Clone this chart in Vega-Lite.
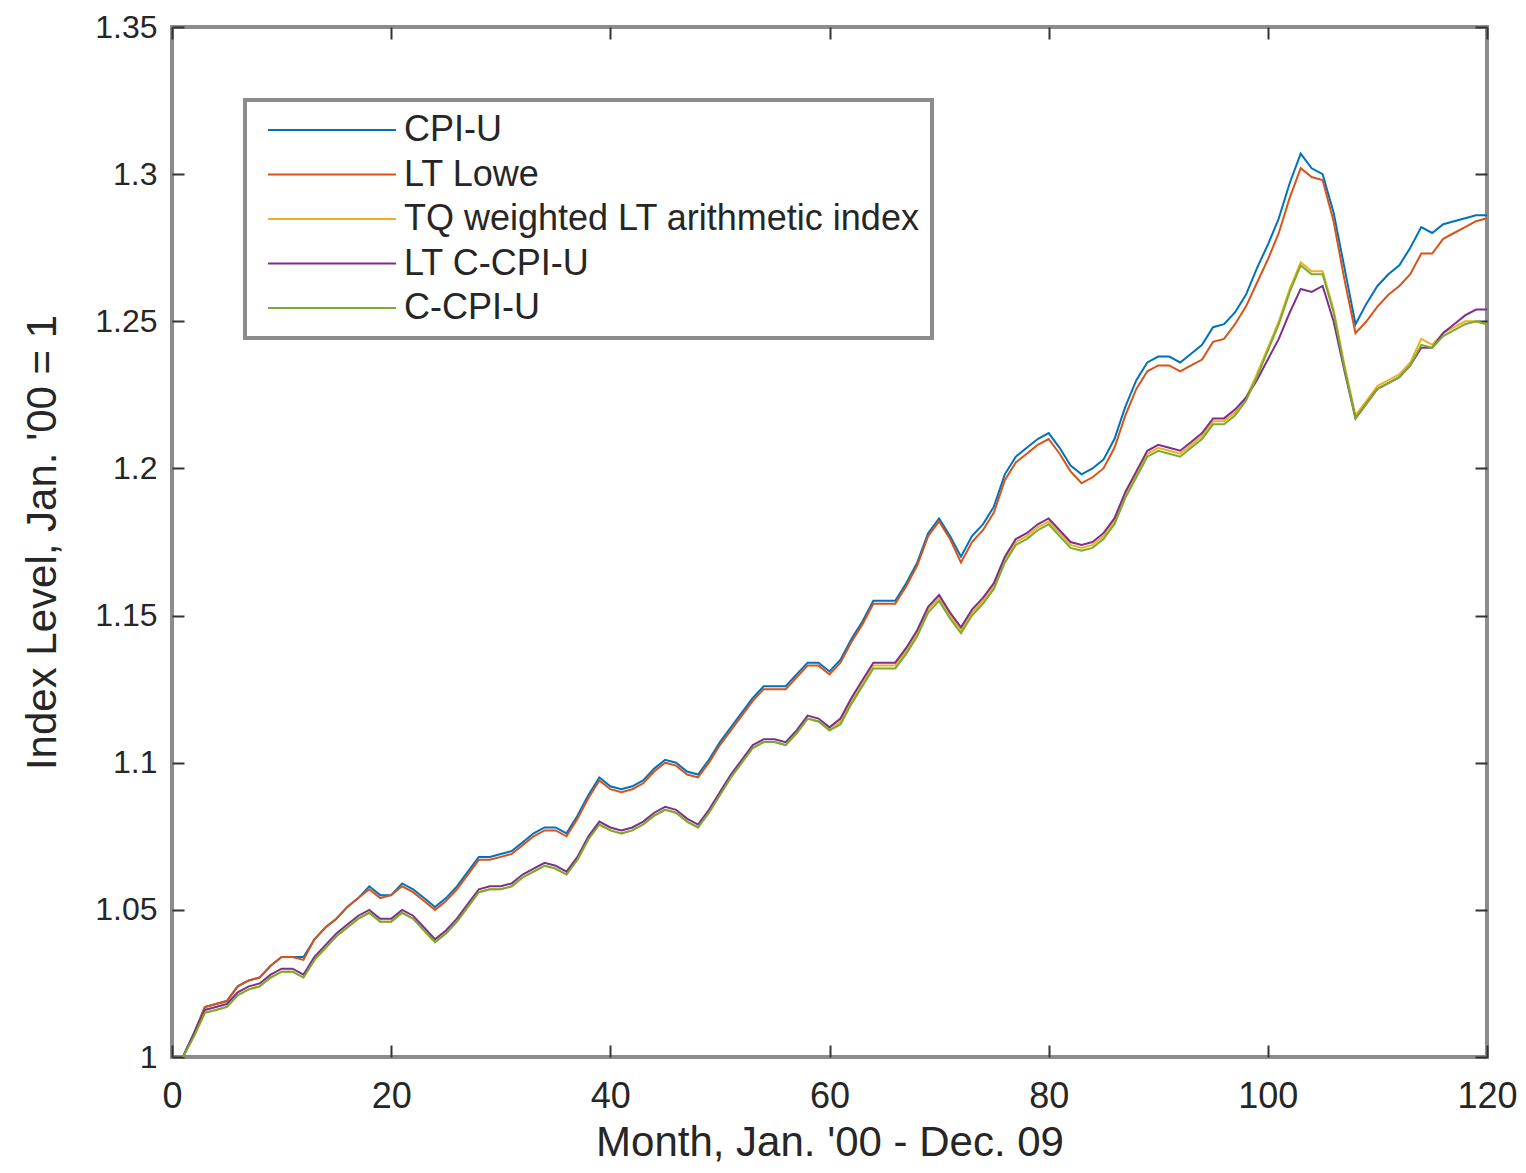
{
  "$schema": "https://vega.github.io/schema/vega-lite/v6.json",
  "width": 1315,
  "height": 1030,
  "autosize": "none",
  "padding": {"left": 172, "top": 27, "right": 39, "bottom": 116},
  "background": "white",
  "config": {
    "view": {"stroke": "#8c8c8c", "strokeWidth": 4},
    "font": "Liberation Sans",
    "axis": {"domain": false, "grid": false, "labelFont": "Liberation Sans", "titleFont": "Liberation Sans", "labelColor": "#262626", "titleColor": "#262626", "tickColor": "#333333", "tickWidth": 2, "tickSize": -12, "labelFlush": false, "labelOverlap": false, "titleFontWeight": "normal"},
    "legend": {"strokeWidth": 4}
  },
  "data": {"values": [
    {"m":1,"cpiu":1.000,"lowe":1.000,"tq":1.000,"ltc":1.000,"ccpi":1.000},
    {"m":2,"cpiu":1.008,"lowe":1.008,"tq":1.007,"ltc":1.008,"ccpi":1.007},
    {"m":3,"cpiu":1.017,"lowe":1.017,"tq":1.015,"ltc":1.016,"ccpi":1.015},
    {"m":4,"cpiu":1.018,"lowe":1.018,"tq":1.016,"ltc":1.017,"ccpi":1.016},
    {"m":5,"cpiu":1.019,"lowe":1.019,"tq":1.017,"ltc":1.018,"ccpi":1.017},
    {"m":6,"cpiu":1.024,"lowe":1.024,"tq":1.021,"ltc":1.022,"ccpi":1.021},
    {"m":7,"cpiu":1.026,"lowe":1.026,"tq":1.023,"ltc":1.024,"ccpi":1.023},
    {"m":8,"cpiu":1.027,"lowe":1.027,"tq":1.024,"ltc":1.025,"ccpi":1.024},
    {"m":9,"cpiu":1.031,"lowe":1.031,"tq":1.027,"ltc":1.028,"ccpi":1.027},
    {"m":10,"cpiu":1.034,"lowe":1.034,"tq":1.029,"ltc":1.030,"ccpi":1.029},
    {"m":11,"cpiu":1.034,"lowe":1.034,"tq":1.029,"ltc":1.030,"ccpi":1.029},
    {"m":12,"cpiu":1.034,"lowe":1.033,"tq":1.027,"ltc":1.028,"ccpi":1.027},
    {"m":13,"cpiu":1.040,"lowe":1.040,"tq":1.033,"ltc":1.034,"ccpi":1.033},
    {"m":14,"cpiu":1.044,"lowe":1.044,"tq":1.037,"ltc":1.038,"ccpi":1.037},
    {"m":15,"cpiu":1.047,"lowe":1.047,"tq":1.041,"ltc":1.042,"ccpi":1.041},
    {"m":16,"cpiu":1.051,"lowe":1.051,"tq":1.044,"ltc":1.045,"ccpi":1.044},
    {"m":17,"cpiu":1.054,"lowe":1.054,"tq":1.047,"ltc":1.048,"ccpi":1.047},
    {"m":18,"cpiu":1.058,"lowe":1.057,"tq":1.049,"ltc":1.050,"ccpi":1.049},
    {"m":19,"cpiu":1.055,"lowe":1.054,"tq":1.046,"ltc":1.047,"ccpi":1.046},
    {"m":20,"cpiu":1.055,"lowe":1.055,"tq":1.046,"ltc":1.047,"ccpi":1.046},
    {"m":21,"cpiu":1.059,"lowe":1.058,"tq":1.049,"ltc":1.050,"ccpi":1.049},
    {"m":22,"cpiu":1.057,"lowe":1.056,"tq":1.047,"ltc":1.048,"ccpi":1.047},
    {"m":23,"cpiu":1.054,"lowe":1.053,"tq":1.043,"ltc":1.044,"ccpi":1.043},
    {"m":24,"cpiu":1.051,"lowe":1.050,"tq":1.039,"ltc":1.040,"ccpi":1.039},
    {"m":25,"cpiu":1.054,"lowe":1.053,"tq":1.042,"ltc":1.043,"ccpi":1.042},
    {"m":26,"cpiu":1.058,"lowe":1.057,"tq":1.046,"ltc":1.047,"ccpi":1.046},
    {"m":27,"cpiu":1.063,"lowe":1.062,"tq":1.051,"ltc":1.052,"ccpi":1.051},
    {"m":28,"cpiu":1.068,"lowe":1.067,"tq":1.056,"ltc":1.057,"ccpi":1.056},
    {"m":29,"cpiu":1.068,"lowe":1.067,"tq":1.057,"ltc":1.058,"ccpi":1.057},
    {"m":30,"cpiu":1.069,"lowe":1.068,"tq":1.057,"ltc":1.058,"ccpi":1.057},
    {"m":31,"cpiu":1.070,"lowe":1.069,"tq":1.058,"ltc":1.059,"ccpi":1.058},
    {"m":32,"cpiu":1.073,"lowe":1.072,"tq":1.061,"ltc":1.062,"ccpi":1.061},
    {"m":33,"cpiu":1.076,"lowe":1.075,"tq":1.063,"ltc":1.064,"ccpi":1.063},
    {"m":34,"cpiu":1.078,"lowe":1.077,"tq":1.065,"ltc":1.066,"ccpi":1.065},
    {"m":35,"cpiu":1.078,"lowe":1.077,"tq":1.064,"ltc":1.065,"ccpi":1.064},
    {"m":36,"cpiu":1.076,"lowe":1.075,"tq":1.062,"ltc":1.063,"ccpi":1.062},
    {"m":37,"cpiu":1.082,"lowe":1.081,"tq":1.067,"ltc":1.068,"ccpi":1.067},
    {"m":38,"cpiu":1.089,"lowe":1.088,"tq":1.074,"ltc":1.075,"ccpi":1.074},
    {"m":39,"cpiu":1.095,"lowe":1.094,"tq":1.079,"ltc":1.080,"ccpi":1.079},
    {"m":40,"cpiu":1.092,"lowe":1.091,"tq":1.077,"ltc":1.078,"ccpi":1.077},
    {"m":41,"cpiu":1.091,"lowe":1.090,"tq":1.076,"ltc":1.077,"ccpi":1.076},
    {"m":42,"cpiu":1.092,"lowe":1.091,"tq":1.077,"ltc":1.078,"ccpi":1.077},
    {"m":43,"cpiu":1.094,"lowe":1.093,"tq":1.079,"ltc":1.080,"ccpi":1.079},
    {"m":44,"cpiu":1.098,"lowe":1.097,"tq":1.082,"ltc":1.083,"ccpi":1.082},
    {"m":45,"cpiu":1.101,"lowe":1.100,"tq":1.084,"ltc":1.085,"ccpi":1.084},
    {"m":46,"cpiu":1.100,"lowe":1.099,"tq":1.083,"ltc":1.084,"ccpi":1.083},
    {"m":47,"cpiu":1.097,"lowe":1.096,"tq":1.080,"ltc":1.081,"ccpi":1.080},
    {"m":48,"cpiu":1.096,"lowe":1.095,"tq":1.078,"ltc":1.079,"ccpi":1.078},
    {"m":49,"cpiu":1.101,"lowe":1.100,"tq":1.083,"ltc":1.084,"ccpi":1.083},
    {"m":50,"cpiu":1.107,"lowe":1.106,"tq":1.089,"ltc":1.090,"ccpi":1.089},
    {"m":51,"cpiu":1.112,"lowe":1.111,"tq":1.095,"ltc":1.096,"ccpi":1.095},
    {"m":52,"cpiu":1.117,"lowe":1.116,"tq":1.100,"ltc":1.101,"ccpi":1.100},
    {"m":53,"cpiu":1.122,"lowe":1.121,"tq":1.105,"ltc":1.106,"ccpi":1.105},
    {"m":54,"cpiu":1.126,"lowe":1.125,"tq":1.107,"ltc":1.108,"ccpi":1.107},
    {"m":55,"cpiu":1.126,"lowe":1.125,"tq":1.107,"ltc":1.108,"ccpi":1.107},
    {"m":56,"cpiu":1.126,"lowe":1.125,"tq":1.106,"ltc":1.107,"ccpi":1.106},
    {"m":57,"cpiu":1.130,"lowe":1.129,"tq":1.110,"ltc":1.111,"ccpi":1.110},
    {"m":58,"cpiu":1.134,"lowe":1.133,"tq":1.115,"ltc":1.116,"ccpi":1.115},
    {"m":59,"cpiu":1.134,"lowe":1.133,"tq":1.114,"ltc":1.115,"ccpi":1.114},
    {"m":60,"cpiu":1.131,"lowe":1.130,"tq":1.111,"ltc":1.112,"ccpi":1.111},
    {"m":61,"cpiu":1.135,"lowe":1.134,"tq":1.114,"ltc":1.115,"ccpi":1.113},
    {"m":62,"cpiu":1.142,"lowe":1.141,"tq":1.121,"ltc":1.122,"ccpi":1.120},
    {"m":63,"cpiu":1.148,"lowe":1.147,"tq":1.127,"ltc":1.128,"ccpi":1.126},
    {"m":64,"cpiu":1.155,"lowe":1.154,"tq":1.133,"ltc":1.134,"ccpi":1.132},
    {"m":65,"cpiu":1.155,"lowe":1.154,"tq":1.133,"ltc":1.134,"ccpi":1.132},
    {"m":66,"cpiu":1.155,"lowe":1.154,"tq":1.133,"ltc":1.134,"ccpi":1.132},
    {"m":67,"cpiu":1.161,"lowe":1.160,"tq":1.138,"ltc":1.139,"ccpi":1.137},
    {"m":68,"cpiu":1.168,"lowe":1.167,"tq":1.144,"ltc":1.145,"ccpi":1.143},
    {"m":69,"cpiu":1.178,"lowe":1.177,"tq":1.152,"ltc":1.153,"ccpi":1.151},
    {"m":70,"cpiu":1.183,"lowe":1.182,"tq":1.156,"ltc":1.157,"ccpi":1.155},
    {"m":71,"cpiu":1.177,"lowe":1.176,"tq":1.150,"ltc":1.151,"ccpi":1.149},
    {"m":72,"cpiu":1.170,"lowe":1.168,"tq":1.145,"ltc":1.146,"ccpi":1.144},
    {"m":73,"cpiu":1.177,"lowe":1.175,"tq":1.151,"ltc":1.152,"ccpi":1.150},
    {"m":74,"cpiu":1.181,"lowe":1.179,"tq":1.155,"ltc":1.156,"ccpi":1.154},
    {"m":75,"cpiu":1.187,"lowe":1.185,"tq":1.160,"ltc":1.161,"ccpi":1.159},
    {"m":76,"cpiu":1.198,"lowe":1.196,"tq":1.169,"ltc":1.170,"ccpi":1.168},
    {"m":77,"cpiu":1.204,"lowe":1.202,"tq":1.175,"ltc":1.176,"ccpi":1.174},
    {"m":78,"cpiu":1.207,"lowe":1.205,"tq":1.177,"ltc":1.178,"ccpi":1.176},
    {"m":79,"cpiu":1.210,"lowe":1.208,"tq":1.180,"ltc":1.181,"ccpi":1.179},
    {"m":80,"cpiu":1.212,"lowe":1.210,"tq":1.182,"ltc":1.183,"ccpi":1.181},
    {"m":81,"cpiu":1.207,"lowe":1.205,"tq":1.178,"ltc":1.179,"ccpi":1.177},
    {"m":82,"cpiu":1.201,"lowe":1.199,"tq":1.174,"ltc":1.175,"ccpi":1.173},
    {"m":83,"cpiu":1.198,"lowe":1.195,"tq":1.173,"ltc":1.174,"ccpi":1.172},
    {"m":84,"cpiu":1.200,"lowe":1.197,"tq":1.174,"ltc":1.175,"ccpi":1.173},
    {"m":85,"cpiu":1.203,"lowe":1.200,"tq":1.177,"ltc":1.178,"ccpi":1.176},
    {"m":86,"cpiu":1.210,"lowe":1.207,"tq":1.182,"ltc":1.183,"ccpi":1.181},
    {"m":87,"cpiu":1.221,"lowe":1.218,"tq":1.191,"ltc":1.192,"ccpi":1.190},
    {"m":88,"cpiu":1.230,"lowe":1.227,"tq":1.198,"ltc":1.199,"ccpi":1.197},
    {"m":89,"cpiu":1.236,"lowe":1.233,"tq":1.205,"ltc":1.206,"ccpi":1.204},
    {"m":90,"cpiu":1.238,"lowe":1.235,"tq":1.207,"ltc":1.208,"ccpi":1.206},
    {"m":91,"cpiu":1.238,"lowe":1.235,"tq":1.206,"ltc":1.207,"ccpi":1.205},
    {"m":92,"cpiu":1.236,"lowe":1.233,"tq":1.205,"ltc":1.206,"ccpi":1.204},
    {"m":93,"cpiu":1.239,"lowe":1.235,"tq":1.208,"ltc":1.209,"ccpi":1.207},
    {"m":94,"cpiu":1.242,"lowe":1.237,"tq":1.211,"ltc":1.212,"ccpi":1.210},
    {"m":95,"cpiu":1.248,"lowe":1.243,"tq":1.216,"ltc":1.217,"ccpi":1.215},
    {"m":96,"cpiu":1.249,"lowe":1.244,"tq":1.216,"ltc":1.217,"ccpi":1.215},
    {"m":97,"cpiu":1.253,"lowe":1.249,"tq":1.219,"ltc":1.220,"ccpi":1.218},
    {"m":98,"cpiu":1.259,"lowe":1.255,"tq":1.224,"ltc":1.224,"ccpi":1.223},
    {"m":99,"cpiu":1.268,"lowe":1.263,"tq":1.232,"ltc":1.230,"ccpi":1.231},
    {"m":100,"cpiu":1.276,"lowe":1.271,"tq":1.241,"ltc":1.237,"ccpi":1.240},
    {"m":101,"cpiu":1.285,"lowe":1.280,"tq":1.250,"ltc":1.244,"ccpi":1.249},
    {"m":102,"cpiu":1.297,"lowe":1.292,"tq":1.261,"ltc":1.253,"ccpi":1.260},
    {"m":103,"cpiu":1.307,"lowe":1.302,"tq":1.270,"ltc":1.261,"ccpi":1.269},
    {"m":104,"cpiu":1.302,"lowe":1.299,"tq":1.267,"ltc":1.260,"ccpi":1.266},
    {"m":105,"cpiu":1.300,"lowe":1.298,"tq":1.267,"ltc":1.262,"ccpi":1.266},
    {"m":106,"cpiu":1.287,"lowe":1.284,"tq":1.254,"ltc":1.250,"ccpi":1.253},
    {"m":107,"cpiu":1.268,"lowe":1.264,"tq":1.235,"ltc":1.233,"ccpi":1.234},
    {"m":108,"cpiu":1.249,"lowe":1.246,"tq":1.218,"ltc":1.217,"ccpi":1.217},
    {"m":109,"cpiu":1.256,"lowe":1.250,"tq":1.223,"ltc":1.222,"ccpi":1.222},
    {"m":110,"cpiu":1.262,"lowe":1.255,"tq":1.228,"ltc":1.227,"ccpi":1.227},
    {"m":111,"cpiu":1.266,"lowe":1.259,"tq":1.230,"ltc":1.229,"ccpi":1.229},
    {"m":112,"cpiu":1.269,"lowe":1.262,"tq":1.232,"ltc":1.231,"ccpi":1.231},
    {"m":113,"cpiu":1.275,"lowe":1.266,"tq":1.236,"ltc":1.235,"ccpi":1.235},
    {"m":114,"cpiu":1.282,"lowe":1.273,"tq":1.244,"ltc":1.241,"ccpi":1.242},
    {"m":115,"cpiu":1.280,"lowe":1.273,"tq":1.242,"ltc":1.241,"ccpi":1.241},
    {"m":116,"cpiu":1.283,"lowe":1.278,"tq":1.246,"ltc":1.246,"ccpi":1.245},
    {"m":117,"cpiu":1.284,"lowe":1.280,"tq":1.248,"ltc":1.249,"ccpi":1.247},
    {"m":118,"cpiu":1.285,"lowe":1.282,"tq":1.250,"ltc":1.252,"ccpi":1.249},
    {"m":119,"cpiu":1.286,"lowe":1.284,"tq":1.250,"ltc":1.254,"ccpi":1.250},
    {"m":120,"cpiu":1.286,"lowe":1.285,"tq":1.249,"ltc":1.254,"ccpi":1.249}
  ]},
  "transform": [{"fold": ["cpiu", "lowe", "tq", "ltc", "ccpi"], "as": ["series", "value"]}],
  "layer": [
    {
      "mark": {"type": "line", "strokeWidth": 2, "clip": true},
      "encoding": {
        "x": {"field": "m", "type": "quantitative", "scale": {"domain": [0, 120], "nice": false, "zero": false},
              "axis": {"orient": "bottom", "values": [0, 20, 40, 60, 80, 100, 120], "format": "d", "labelFontSize": 36, "labelPadding": 34, "title": "Month, Jan. '00 - Dec. 09", "titleFontSize": 42, "titlePadding": 8}},
        "y": {"field": "value", "type": "quantitative", "scale": {"domain": [1, 1.35], "nice": false, "zero": false},
              "axis": {"orient": "left", "values": [1, 1.05, 1.1, 1.15, 1.2, 1.25, 1.3, 1.35], "format": "~g", "labelFontSize": 32, "labelPadding": 27, "title": "Index Level, Jan. '00 = 1", "titleFontSize": 42, "titlePadding": 30}},
        "color": {"field": "series", "type": "nominal",
                  "scale": {"domain": ["cpiu", "lowe", "tq", "ltc", "ccpi"], "range": ["#0072BD", "#D95319", "#EDB120", "#7E2F8E", "#77AC30"]},
                  "legend": {"orient": "none", "legendX": 73, "legendY": 73, "title": null,
                             "labelExpr": "{'cpiu':'CPI-U','lowe':'LT Lowe','tq':'TQ weighted LT arithmetic index','ltc':'LT C-CPI-U','ccpi':'C-CPI-U'}[datum.label]",
                             "labelFont": "Liberation Sans", "labelFontSize": 36, "labelColor": "#262626", "labelLimit": 0,
                             "symbolType": "M-4,0H4", "symbolSize": 1024, "symbolStrokeWidth": 2,
                             "symbolOffset": 57, "labelOffset": 54, "rowPadding": 8.5, "padding": 12,
                             "strokeColor": "#8c8c8c", "fillColor": "white"}}
      }
    },
    {
      "mark": {"type": "point", "opacity": 0},
      "encoding": {
        "x": {"field": "m", "type": "quantitative", "axis": {"orient": "top", "values": [0, 20, 40, 60, 80, 100, 120], "labels": false, "title": null}},
        "y": {"field": "value", "type": "quantitative", "axis": {"orient": "right", "values": [1, 1.05, 1.1, 1.15, 1.2, 1.25, 1.3, 1.35], "labels": false, "title": null}}
      }
    }
  ],
  "resolve": {"axis": {"x": "independent", "y": "independent"}}
}
